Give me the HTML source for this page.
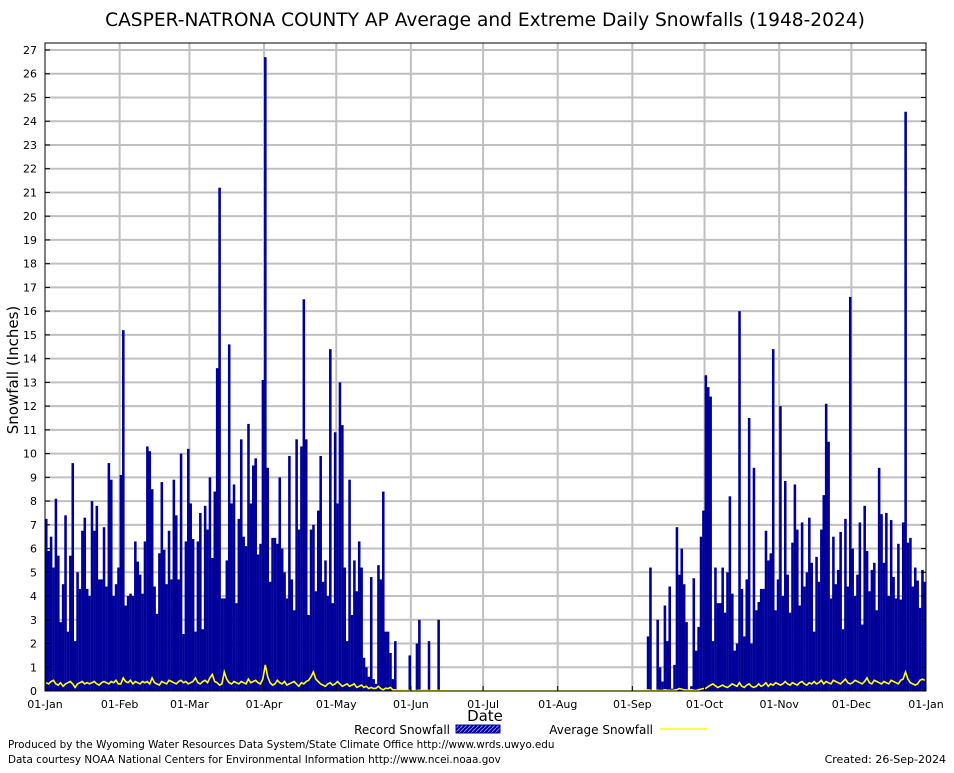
<!DOCTYPE html>
<html><head><meta charset="utf-8">
<style>
body{margin:0;background:#fff;font-family:"Liberation Sans","DejaVu Sans",sans-serif;}
svg text{font-family:"DejaVu Sans","Liberation Sans",sans-serif;}
</style></head>
<body>
<svg id="chart" width="954" height="768" viewBox="0 0 954 768" xmlns="http://www.w3.org/2000/svg">
<defs>
<pattern id="hatch" width="4" height="4" patternUnits="userSpaceOnUse"><rect width="4" height="4" fill="#000099"/><path d="M0,4 L4,0" stroke="#8888ff" stroke-width="1"/></pattern>
</defs>
<rect width="954" height="768" fill="#fff"/>
<text x="485" y="26" font-size="18.6" text-anchor="middle" fill="#000">CASPER-NATRONA COUNTY AP Average and Extreme Daily Snowfalls (1948-2024)</text>
<g id="grid"></g>
<g id="bars"></g>
<g id="avg"></g>
<g id="axes"></g>
<text transform="translate(18,370) rotate(-90)" font-size="15" text-anchor="middle">Snowfall (Inches)</text>
<text x="485" y="721" font-size="15" text-anchor="middle">Date</text>
<g>
<text x="450" y="734" font-size="12" text-anchor="end">Record Snowfall</text>
<rect x="456" y="725" width="44" height="8" fill="url(#hatch)" stroke="#000099"/>
<text x="653" y="734" font-size="12" text-anchor="end">Average Snowfall</text>
<line x1="660" y1="729" x2="707" y2="729" stroke="#ffff00" stroke-width="1.5"/>
</g>
<text x="8" y="748" font-size="10.4">Produced by the Wyoming Water Resources Data System/State Climate Office http://www.wrds.uwyo.edu</text>
<text x="8" y="763" font-size="10.4">Data courtesy NOAA National Centers for Environmental Information http://www.ncei.noaa.gov</text>
<text x="946" y="763" font-size="11" text-anchor="end">Created: 26-Sep-2024</text>
</svg>
<script>
const monthLabels=["01-Jan","01-Feb","01-Mar","01-Apr","01-May","01-Jun","01-Jul","01-Aug","01-Sep","01-Oct","01-Nov","01-Dec","01-Jan"];
const monthStarts=[0,31,60,91,121,152,182,213,244,274,305,335,366];
const yTicks=[0,1,2,3,4,5,6,7,8,9,10,11,12,13,14,15,16,17,18,19,20,21,22,23,24,25,26,27];
const recJanApr=[7.25,5.9,6.5,5.2,8.1,5.7,2.9,4.5,7.4,2.5,5.7,9.6,2.1,5.0,4.3,6.75,7.3,4.3,4.0,8.0,6.75,7.8,4.7,4.7,6.9,4.4,9.6,8.9,4.0,4.5,5.2,9.1,15.2,3.6,4.0,4.1,4.0,6.3,5.45,4.9,4.1,6.3,10.3,10.1,8.5,4.4,3.25,5.8,8.8,5.95,4.5,6.75,4.7,8.9,7.4,4.7,10.0,2.4,6.3,10.2,
7.9,6.4,2.5,6.3,7.5,2.6,7.8,6.8,9.0,5.6,8.4,13.6,21.2,3.9,3.9,5.5,14.6,7.9,8.7,3.7,7.25,10.6,6.5,6.1,11.25,7.9,9.5,9.8,5.75,6.2,13.1,26.7,9.4,4.6,6.45,6.45,6.2,9.0,6.0,5.0,3.9,9.9,4.7,3.4,10.6,6.8,10.3,16.5,10.6,3.2,6.8,7.0,4.2,7.6,9.9,4.6,5.5,4.0,14.4,3.7,10.9,7.9,13.0,11.2,5.2];
const recMayJun=[2.1,8.9,3.2,5.5,4.2,6.3,5.2,1.4,1.0,0.6,4.8,0.5,0.3,5.3,4.7,8.4,2.5,2.5,1.6,0.5,2.1,0,0,0,0,0,1.5,0,0,2.0,3.0,0,0,0,2.1,0,0,0,3.0];
const recSepOct=[2.3,5.2,0,0,3.0,1.0,0.4,3.6,2.1,4.4,0.1,1.1,6.9,4.9,6.0,4.5,2.9,0,0.2,4.75,1.7,2.7,6.5,7.6,13.3,12.8,12.4,2.1,5.2,3.7,3.7,5.2,3.3,5.0,8.2,4.1,1.7,2.0,16.0,4.3,2.3,4.7,11.5,2.0,9.4,3.4,3.75,4.3,4.3,6.75,5.5];
const recNovDec=[5.8,14.4,3.4,4.7,12.0,4.0,8.85,4.9,3.3,6.25,8.7,6.8,3.6,7.1,4.4,5.0,7.3,5.4,2.5,5.65,4.6,6.8,8.25,12.1,10.5,3.9,6.5,4.5,5.1,6.7,2.6,7.25,4.4,16.6,6.0,4.0,4.9,7.1,2.8,7.8,5.9,4.2,5.1,5.4,3.4,9.4,7.45,5.4,7.5,4.0,7.2,4.8,3.9,6.2,3.85,7.1,24.4,6.25,6.45,4.4,5.2,4.65,3.5,5.1,4.6];
const avgJan=[0.35,0.3,0.4,0.45,0.3,0.25,0.35,0.2,0.3,0.35,0.4,0.3,0.15,0.3,0.35,0.4,0.3,0.35,0.3,0.35,0.4,0.3,0.25,0.35,0.4,0.35,0.3,0.4,0.35,0.45,0.3];
const avgFeb=[0.3,0.55,0.4,0.35,0.45,0.3,0.4,0.35,0.3,0.4,0.35,0.4,0.3,0.55,0.35,0.3,0.25,0.4,0.35,0.3,0.45,0.4,0.35,0.3,0.4,0.45,0.35,0.4,0.3];
const avgMar=[0.35,0.4,0.55,0.35,0.3,0.4,0.45,0.35,0.55,0.7,0.4,0.35,0.25,0.3,0.8,0.5,0.35,0.3,0.4,0.35,0.3,0.4,0.35,0.3,0.5,0.35,0.4,0.45,0.35,0.3,0.5];
const avgApr=[1.1,0.6,0.35,0.25,0.3,0.45,0.35,0.3,0.4,0.25,0.3,0.35,0.4,0.3,0.2,0.35,0.3,0.4,0.45,0.6,0.8,0.5,0.4,0.3,0.25,0.2,0.3,0.35,0.25,0.3];
const avgMay=[0.4,0.3,0.2,0.25,0.3,0.2,0.25,0.3,0.15,0.2,0.25,0.15,0.2,0.1,0.15,0.1,0.12,0.2,0.1,0.05,0.12,0.1,0.15,0.05,0.05,0.02,0.05,0.03,0.02,0.03,0.02];
const avgJun=[0,0,0.02,0.03,0.03,0.04,0.04,0.02,0.02,0.01,0.03,0.02,0.02,0.01,0,0,0,0,0,0,0,0,0,0,0,0,0,0,0,0];
const avgJul=[0,0,0,0,0,0,0,0,0,0,0,0,0,0,0,0,0,0,0,0,0,0,0,0,0,0,0,0,0,0,0];
const avgAug=[0,0,0,0,0,0,0,0,0,0,0,0,0,0,0,0,0,0,0,0,0,0,0,0,0,0,0,0,0,0,0];
const avgSep=[0,0,0,0,0,0.03,0.05,0.03,0.02,0.02,0.03,0.02,0.02,0.05,0.03,0.03,0.02,0.04,0.06,0.1,0.08,0.05,0.04,0.03,0.06,0.03,0.02,0.05,0.08,0.1];
const avgOct=[0.12,0.18,0.25,0.3,0.22,0.15,0.2,0.25,0.18,0.15,0.22,0.3,0.25,0.2,0.35,0.2,0.15,0.25,0.3,0.2,0.15,0.2,0.3,0.2,0.25,0.35,0.2,0.3,0.25,0.35,0.3];
const avgNov=[0.25,0.3,0.4,0.3,0.25,0.35,0.3,0.25,0.35,0.4,0.3,0.25,0.35,0.3,0.4,0.3,0.35,0.45,0.3,0.4,0.35,0.3,0.45,0.4,0.35,0.3,0.4,0.5,0.35,0.3];
const avgDec=[0.35,0.45,0.4,0.35,0.3,0.4,0.55,0.35,0.3,0.45,0.4,0.35,0.3,0.4,0.35,0.3,0.45,0.4,0.35,0.3,0.45,0.5,0.8,0.5,0.35,0.3,0.25,0.3,0.45,0.5,0.45];

const NS="http://www.w3.org/2000/svg";
const X0=45,X1=926,Y0=691,Y1=50,TOP=43,NDAYS=366;
function xs(d){return X0+d*(X1-X0)/NDAYS;}
function ys(v){return Y0-v*(Y0-Y1)/27;}
function mk(tag,attrs,parent){const e=document.createElementNS(NS,tag);for(const k in attrs)e.setAttribute(k,attrs[k]);parent.appendChild(e);return e;}

const record=new Array(NDAYS).fill(0);
function place(arr,start){arr.forEach((v,i)=>{if(start+i<NDAYS)record[start+i]=v;});}
place(recJanApr,0);place(recMayJun,125);place(recSepOct,250);place(recNovDec,301);
const average=[].concat(avgJan,avgFeb,avgMar,avgApr,avgMay,avgJun,avgJul,avgAug,avgSep,avgOct,avgNov,avgDec);

const grid=document.getElementById('grid');
yTicks.forEach(t=>{
  if(t===0)return;
  const l=mk('line',{x1:X0,x2:X1,y1:ys(t),y2:ys(t),stroke:'#c0c0c0','stroke-width':2},grid);
  
  
});
monthStarts.forEach((d,i)=>{
  if(i===0||i===monthStarts.length-1)return;
  const l=mk('line',{x1:xs(d),x2:xs(d),y1:TOP,y2:Y0,stroke:'#c0c0c0','stroke-width':2},grid);
  
  
});

const bars=document.getElementById('bars');
record.forEach((v,d)=>{
  if(v<=0)return;
  const r=mk('rect',{x:xs(d),y:ys(v),width:(X1-X0)/NDAYS+0.15,height:Y0-ys(v),fill:'#000099'},bars);
  
  
});

const avgG=document.getElementById('avg');
let pts=average.map((v,d)=>xs(d+0.5).toFixed(1)+','+ys(v).toFixed(1)).join(' ');
const pl=mk('polyline',{points:pts,fill:'none',stroke:'#ffff00','stroke-width':1.6},avgG);



const axes=document.getElementById('axes');
const frame=mk('rect',{x:X0,y:TOP,width:X1-X0,height:Y0-TOP,fill:'none',stroke:'#000','stroke-width':1},axes);


yTicks.forEach(t=>{
  mk('line',{x1:X0,x2:X0+5,y1:ys(t),y2:ys(t),stroke:'#000'},axes);
  mk('line',{x1:X1-5,x2:X1,y1:ys(t),y2:ys(t),stroke:'#000'},axes);
  const tx=mk('text',{x:X0-8,y:ys(t)+4,'font-size':11,'text-anchor':'end'},axes);
  tx.textContent=t;
  
  
});
monthStarts.forEach((d,i)=>{
  mk('line',{x1:xs(d),x2:xs(d),y1:Y0,y2:Y0-5,stroke:'#000'},axes);
  const tx=mk('text',{x:xs(d),y:708,'font-size':11,'text-anchor':'middle'},axes);
  tx.textContent=monthLabels[i];
  
  
});
</script>
</body></html>
